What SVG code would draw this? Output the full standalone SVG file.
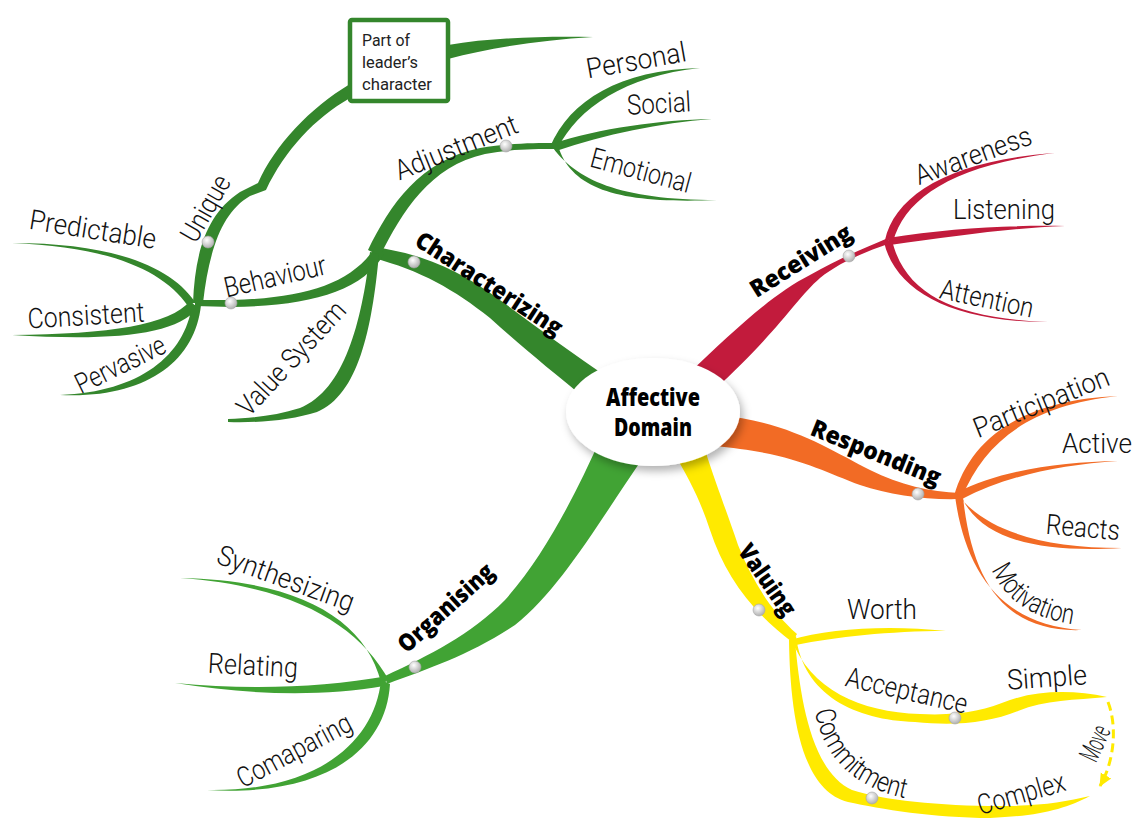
<svg xmlns="http://www.w3.org/2000/svg" width="1139" height="820" viewBox="0 0 1139 820">
<defs>
<style>
.lf{font-family:Roboto,"Liberation Sans",sans-serif;font-weight:300;font-size:28px;fill:#111;text-anchor:middle;}
.bd{font-family:"Open Sans","Liberation Sans",sans-serif;font-weight:800;font-size:24px;fill:#000;text-anchor:middle;}
.bx{font-family:Roboto,"Liberation Sans",sans-serif;font-size:17px;fill:#222;}
.dg{fill:#34862c}
.lg{fill:#41a334}
.rd{fill:#c21b3c}
.or{fill:#f26b25}
.yl{fill:#ffea00}
.dot{fill:url(#dotg);stroke:#a8a8a8;stroke-width:.6}
</style>
<radialGradient id="dotg" cx="40%" cy="35%" r="65%"><stop offset="0" stop-color="#ffffff"/><stop offset="1" stop-color="#b0b0b0"/></radialGradient>
<filter id="sh" x="-20%" y="-20%" width="150%" height="170%"><feDropShadow dx="3" dy="5" stdDeviation="4" flood-color="#000" flood-opacity=".3"/></filter>
<marker id="arr" markerUnits="userSpaceOnUse" markerWidth="14" markerHeight="14" refX="12" refY="7" orient="auto"><path d="M0,1 L13,7 L0,13 Z" fill="#ffea00"/></marker>
<path id="pCom" d="M812,692 C817,752 850,793 924,801" fill="none"/>
<path id="pMot" d="M986,553 C997,597 1030,622 1090,626" fill="none"/>
</defs>
<rect width="1139" height="820" fill="#fff"/>

<g id="connectors">
<!-- Characterizing -->
<path class="dg" d="M373,247 C420,253 460,270 500,300 C530,322 570,352 612,380 L590,402 C550,370 520,345 490,318 C455,290 420,270 373,258 Z"/>
<path class="dg" d="M368,250 C390,205 420,160 480,148 C510,143 535,143 555,143 L555,149 C535,149 510,149 485,154 C430,166 402,212 380,256 Z"/>
<path class="dg" d="M376,246 C352,284 305,298 232,300 L195,300 L195,306 L232,307 C308,306 362,292 384,254 Z"/>
<path class="dg" d="M370,252 C362,320 345,390 300,408 C275,416 250,418 228,419 L228,422 C260,423 292,420 317,412 C358,395 372,330 379,254 Z"/>
<path class="dg" d="M193,303 C195,255 205,215 240,192 L258,183 C275,145 310,108 350,84 L350,98 C315,118 285,150 266,190 L250,196 C222,212 209,250 203,303 Z"/>
<path class="dg" d="M448,45 C490,38 540,36 593,37 C540,40 490,48 448,59 Z"/>
<path class="dg" d="M195,302 C170,265 110,243 12,243 C110,247 163,270 188,306 Z"/>
<path class="dg" d="M190,301 C170,325 110,334 12,335 C110,341 175,336 198,308 Z"/>
<path class="dg" d="M192,305 C185,355 140,392 60,395 C145,399 195,362 201,305 Z"/>
<path class="dg" d="M550,147 C570,100 620,70 700,68 C625,76 578,108 558,148 Z"/>
<path class="dg" d="M552,144 C600,128 660,120 712,119 C660,123 605,134 556,151 Z"/>
<path class="dg" d="M551,145 C575,180 620,200 717,200 C620,204 572,190 558,146 Z"/>
<!-- Receiving -->
<path class="rd" d="M690,372 C730,335 770,295 810,275 C840,258 865,248 888,238 L888,244 C865,252 840,262 820,278 C795,300 780,330 712,392 Z"/>
<path class="rd" d="M885,240 C895,195 950,160 1055,153 C955,165 905,197 893,242 Z"/>
<path class="rd" d="M888,238 C950,228 1010,225 1065,226 C1010,228 955,236 890,245 Z"/>
<path class="rd" d="M884,242 C895,290 950,322 1048,322 C955,318 905,295 892,240 Z"/>
<!-- Responding -->
<path class="or" d="M718,415 C790,422 830,450 870,470 C900,485 930,492 960,493 L960,499 C925,500 890,495 860,485 C820,470 790,452 712,446 Z"/>
<path class="or" d="M954,496 C970,440 1020,400 1118,396 C1030,405 985,442 962,497 Z"/>
<path class="or" d="M956,493 C1000,470 1060,462 1118,461 C1060,465 1005,476 962,499 Z"/>
<path class="or" d="M957,494 C985,530 1040,548 1122,548 C1040,553 982,540 962,498 Z"/>
<path class="or" d="M955,496 C965,570 1000,625 1082,630 C1005,633 972,582 963,497 Z"/>
<!-- Valuing -->
<path class="yl" d="M672,450 C690,480 700,500 710,530 C725,575 750,610 792,642 L797,634 C770,610 752,580 738,545 C728,515 718,490 705,450 Z"/>
<path class="yl" d="M790,640 C830,628 890,625 946,631 C890,631 835,637 796,645 Z"/>
<path class="yl" d="M791,638 C810,690 860,712 920,714 C960,716 985,710 1010,700 C1040,690 1075,690 1107,697 C1075,700 1045,700 1018,711 C988,723 955,726 915,722 C855,720 803,695 796,636 Z"/>
<path class="yl" d="M795,640 C800,700 812,772 852,790 C882,800 940,806 1000,806 C1040,806 1065,802 1090,796 C1065,809 1040,816 990,818 C935,818 880,809 848,802 C800,790 790,710 789,640 Z"/>
<path d="M1108,702 C1117,725 1115,760 1100,786" fill="none" stroke="#ffea00" stroke-width="3" stroke-dasharray="9,5" marker-end="url(#arr)"/>
<!-- Organising -->
<path class="lg" d="M600,440 C575,495 545,555 505,600 C470,635 430,655 385,676 L387,684 C430,668 470,655 515,625 C560,590 600,520 645,455 Z"/>
<path class="lg" d="M381,682 C365,620 300,580 180,578 C295,586 358,625 389,680 Z"/>
<path class="lg" d="M388,676 C320,688 250,690 175,683 C250,695 320,697 384,686 Z"/>
<path class="lg" d="M381,680 C375,740 320,792 207,790 C325,797 386,750 390,684 Z"/>
<!-- dots -->
<circle class="dot" cx="414" cy="262" r="6"/>
<circle class="dot" cx="506" cy="146" r="6"/>
<circle class="dot" cx="231" cy="303" r="6"/>
<circle class="dot" cx="208" cy="242" r="6"/>
<circle class="dot" cx="849" cy="256" r="6"/>
<circle class="dot" cx="918" cy="494" r="6"/>
<circle class="dot" cx="759" cy="610" r="6"/>
<circle class="dot" cx="955" cy="718" r="6"/>
<circle class="dot" cx="872" cy="798" r="6"/>
<circle class="dot" cx="415" cy="667" r="6"/>
</g>

<g id="node-center">
<ellipse cx="653" cy="412" rx="87" ry="54" fill="#fff" filter="url(#sh)"/>
<text class="bd" x="653" y="406" font-size="21" textLength="94" lengthAdjust="spacingAndGlyphs">Affective</text>
<text class="bd" x="653" y="436" font-size="21" textLength="78" lengthAdjust="spacingAndGlyphs">Domain</text>
</g>

<g id="node-characterizing"><text class="bd" transform="translate(489,284) rotate(33)" y="8" textLength="170" lengthAdjust="spacingAndGlyphs">Characterizing</text></g>
<g id="node-receiving"><text class="bd" transform="translate(801,261) rotate(-32)" y="8" textLength="115" lengthAdjust="spacingAndGlyphs">Receiving</text></g>
<g id="node-responding"><text class="bd" transform="translate(876,453) rotate(22)" y="8" textLength="138" lengthAdjust="spacingAndGlyphs">Responding</text></g>
<g id="node-valuing"><text class="bd" transform="translate(767,580) rotate(55)" y="8" textLength="82" lengthAdjust="spacingAndGlyphs">Valuing</text></g>
<g id="node-organising"><text class="bd" transform="translate(446,608) rotate(-42)" y="8" textLength="120" lengthAdjust="spacingAndGlyphs">Organising</text></g>

<g id="node-box">
<rect x="350" y="20" width="98" height="81" rx="2" fill="#fff" stroke="#34862c" stroke-width="4.5"/>
<text class="bx" x="362" y="46" textLength="48" lengthAdjust="spacingAndGlyphs">Part of</text>
<text class="bx" x="362" y="68" textLength="56" lengthAdjust="spacingAndGlyphs">leader’s</text>
<text class="bx" x="362" y="90" textLength="70" lengthAdjust="spacingAndGlyphs">character</text>
</g>

<g id="node-predictable"><text class="lf" transform="translate(93,229) rotate(9)" y="10" textLength="128" lengthAdjust="spacingAndGlyphs">Predictable</text></g>
<g id="node-consistent"><text class="lf" transform="translate(86,315) rotate(-3.5)" y="10" textLength="117" lengthAdjust="spacingAndGlyphs">Consistent</text></g>
<g id="node-pervasive"><text class="lf" transform="translate(120,364) rotate(-26)" y="10" textLength="97" lengthAdjust="spacingAndGlyphs">Pervasive</text></g>
<g id="node-unique"><text class="lf" transform="translate(205,208) rotate(-60)" y="10" textLength="72" lengthAdjust="spacingAndGlyphs">Unique</text></g>
<g id="node-behaviour"><text class="lf" transform="translate(275,276) rotate(-13)" y="10" textLength="104" lengthAdjust="spacingAndGlyphs">Behaviour</text></g>
<g id="node-valuesystem"><text class="lf" transform="translate(291,358) rotate(-47)" y="10" textLength="145" lengthAdjust="spacingAndGlyphs">Value System</text></g>
<g id="node-adjustment"><text class="lf" transform="translate(456,147) rotate(-22)" y="10" textLength="130" lengthAdjust="spacingAndGlyphs">Adjustment</text></g>
<g id="node-personal"><text class="lf" transform="translate(636,60) rotate(-10)" y="10" textLength="101" lengthAdjust="spacingAndGlyphs">Personal</text></g>
<g id="node-social"><text class="lf" transform="translate(659,103) rotate(-3)" y="10" textLength="64" lengthAdjust="spacingAndGlyphs">Social</text></g>
<g id="node-emotional"><text class="lf" transform="translate(641,170) rotate(15)" y="10" textLength="103" lengthAdjust="spacingAndGlyphs">Emotional</text></g>
<g id="node-awareness"><text class="lf" transform="translate(973,155) rotate(-20)" y="10" textLength="122" lengthAdjust="spacingAndGlyphs">Awareness</text></g>
<g id="node-listening"><text class="lf" transform="translate(1004,209) rotate(0)" y="10" textLength="102" lengthAdjust="spacingAndGlyphs">Listening</text></g>
<g id="node-attention"><text class="lf" transform="translate(987,298) rotate(12)" y="10" textLength="95" lengthAdjust="spacingAndGlyphs">Attention</text></g>
<g id="node-participation"><text class="lf" transform="translate(1041,402) rotate(-22)" y="10" textLength="144" lengthAdjust="spacingAndGlyphs">Participation</text></g>
<g id="node-active"><text class="lf" transform="translate(1097,443) rotate(0)" y="10" textLength="70" lengthAdjust="spacingAndGlyphs">Active</text></g>
<g id="node-reacts"><text class="lf" transform="translate(1083,527) rotate(5)" y="10" textLength="74" lengthAdjust="spacingAndGlyphs">Reacts</text></g>
<g id="node-motivation"><text class="lf"><textPath href="#pMot" startOffset="50%" textLength="102" lengthAdjust="spacingAndGlyphs">Motivation</textPath></text></g>
<g id="node-worth"><text class="lf" transform="translate(882,609) rotate(0)" y="10" textLength="70" lengthAdjust="spacingAndGlyphs">Worth</text></g>
<g id="node-acceptance"><text class="lf" transform="translate(907,690) rotate(13)" y="10" textLength="124" lengthAdjust="spacingAndGlyphs">Acceptance</text></g>
<g id="node-simple"><text class="lf" transform="translate(1047,677) rotate(-4)" y="10" textLength="80" lengthAdjust="spacingAndGlyphs">Simple</text></g>
<g id="node-commitment"><text class="lf"><textPath href="#pCom" startOffset="50%" textLength="134" lengthAdjust="spacingAndGlyphs">Commitment</textPath></text></g>
<g id="node-complex"><text class="lf" transform="translate(1021,793) rotate(-16)" y="10" textLength="90" lengthAdjust="spacingAndGlyphs">Complex</text></g>
<g id="node-move"><text class="lf" transform="translate(1099,745) rotate(-65)" y="5" font-size="15" textLength="36" lengthAdjust="spacingAndGlyphs">Move</text></g>
<g id="node-synthesizing"><text class="lf" transform="translate(286,578) rotate(20)" y="10" textLength="144" lengthAdjust="spacingAndGlyphs">Synthesizing</text></g>
<g id="node-relating"><text class="lf" transform="translate(253,665) rotate(3)" y="10" textLength="90" lengthAdjust="spacingAndGlyphs">Relating</text></g>
<g id="node-comaparing"><text class="lf" transform="translate(294,750) rotate(-28)" y="10" textLength="126" lengthAdjust="spacingAndGlyphs">Comaparing</text></g>
</svg>
